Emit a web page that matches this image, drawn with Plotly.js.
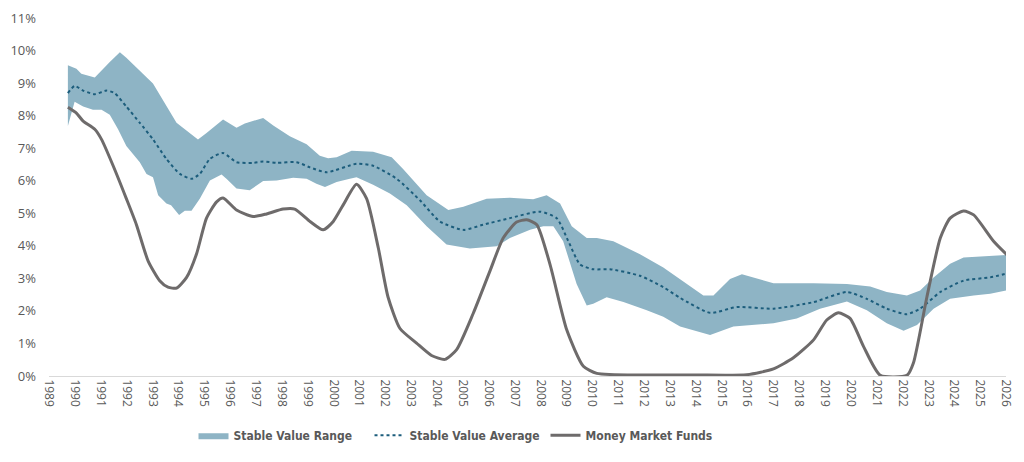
<!DOCTYPE html>
<html>
<head>
<meta charset="utf-8">
<script src="https://cdn.plot.ly/plotly-3.0.1.min.js"></script>
<style>
  html, body { margin: 0; padding: 0; background: #fff; }
  #plot { width: 1024px; height: 462px; }
</style>
</head>
<body>
<div id="plot"></div>
<script>
// values (x = decimal year, y = percent)
const years = [1989, 1990, 1991, 1992, 1993, 1994, 1995, 1996, 1997, 1998, 1999, 2000, 2001, 2002,
  2003, 2004, 2005, 2006, 2007, 2008, 2009, 2010, 2011, 2012, 2013, 2014, 2015, 2016, 2017, 2018,
  2019, 2020, 2021, 2022, 2023, 2024, 2025, 2026];
const yTicks = [0, 1, 2, 3, 4, 5, 6, 7, 8, 9, 10, 11];

const rangeHighX = [1989.73, 1990.06, 1990.25, 1990.77, 1991.35, 1991.74, 1991.99, 1993.02, 1993.93,
  1994.76, 1995.09, 1995.73, 1996.25, 1996.57, 1997.28, 1997.67, 1998.31, 1998.96, 1999.47, 1999.79,
  2000.12, 2000.7, 2001.53, 2002.25, 2002.69, 2003.60, 2004.44, 2005.02, 2005.92, 2006.82, 2007.72,
  2008.24, 2008.76, 2009.21, 2009.79, 2010.18, 2010.82, 2011.85, 2012.75, 2013.40, 2014.30, 2014.69,
  2015.33, 2015.79, 2017.01, 2018.56, 2019.85, 2020.75, 2021.39, 2022.17, 2022.68, 2023.20, 2023.84,
  2024.36, 2025.39, 2026.04];
const rangeHigh = [9.55, 9.44, 9.29, 9.17, 9.65, 9.95, 9.78, 8.99, 7.78,
  7.27, 7.47, 7.88, 7.63, 7.76, 7.93, 7.70, 7.37, 7.12, 6.77, 6.69,
  6.72, 6.92, 6.89, 6.72, 6.36, 5.55, 5.10, 5.20, 5.45, 5.48, 5.43,
  5.55, 5.30, 4.60, 4.24, 4.24, 4.14, 3.74, 3.33, 2.98, 2.47, 2.47,
  2.98, 3.13, 2.85, 2.85, 2.83, 2.75, 2.58, 2.47, 2.63, 3.03, 3.45,
  3.64, 3.69, 3.72];

const rangeLowX = [1989.73, 1989.99, 1990.32, 1990.70, 1991.03, 1991.35, 1991.67, 1991.99, 1992.51,
  1992.77, 1993.02, 1993.22, 1993.54, 1993.72, 1994.03, 1994.25, 1994.51, 1994.83, 1995.22, 1995.67,
  1995.86, 1996.25, 1996.76, 1997.28, 1997.80, 1998.44, 1998.96, 1999.34, 1999.67, 2000.12, 2000.63,
  2000.89, 2001.53, 2002.18, 2002.83, 2003.60, 2004.37, 2005.27, 2006.31, 2006.82, 2007.60, 2008.11,
  2008.50, 2008.88, 2009.40, 2009.79, 2010.04, 2010.56, 2011.21, 2012.11, 2012.75, 2013.40, 2014.56,
  2015.46, 2017.01, 2017.91, 2018.81, 2019.85, 2020.62, 2021.39, 2022.04, 2022.56, 2023.20, 2023.84,
  2024.75, 2025.39, 2026.04];
const rangeLow = [7.68, 8.43, 8.28, 8.18, 8.18, 8.03, 7.58, 7.07, 6.57,
  6.21, 6.11, 5.55, 5.30, 5.25, 4.95, 5.08, 5.08, 5.45, 6.01, 6.19,
  6.06, 5.76, 5.71, 5.99, 6.01, 6.09, 6.06, 5.91, 5.81, 5.96, 6.06,
  6.11, 5.88, 5.61, 5.25, 4.60, 4.04, 3.92, 3.99, 4.24, 4.49, 4.60,
  4.60, 4.14, 2.83, 2.17, 2.22, 2.42, 2.27, 2.02, 1.82, 1.52, 1.26,
  1.52, 1.62, 1.77, 2.07, 2.29, 2.02, 1.62, 1.39, 1.57, 2.07, 2.37,
  2.47, 2.53, 2.63];

const averageX = [1989.73, 1989.99, 1990.32, 1990.77, 1991.22, 1991.54, 1991.99, 1992.51, 1993.02,
  1993.54, 1994.06, 1994.51, 1994.83, 1995.22, 1995.73, 1996.25, 1996.89, 1997.28, 1997.80, 1998.57,
  1999.09, 1999.73, 2000.89, 2001.53, 2002.44, 2003.34, 2004.11, 2005.02, 2005.79, 2006.82, 2007.98,
  2008.63, 2009.08, 2009.53, 2010.04, 2010.69, 2011.85, 2012.75, 2013.40, 2014.56, 2015.59, 2017.01,
  2018.56, 2019.85, 2020.62, 2021.39, 2022.17, 2022.68, 2023.46, 2024.36, 2025.39, 2026.04];
const average = [8.69, 8.91, 8.77, 8.66, 8.77, 8.69, 8.28, 7.78, 7.27,
  6.67, 6.21, 6.06, 6.21, 6.67, 6.85, 6.57, 6.55, 6.59, 6.55, 6.57,
  6.41, 6.26, 6.52, 6.46, 6.06, 5.40, 4.75, 4.49, 4.65, 4.85, 5.05,
  4.85, 4.14, 3.43, 3.28, 3.28, 3.08, 2.73, 2.40, 1.94, 2.12, 2.07,
  2.27, 2.58, 2.37, 2.07, 1.90, 2.07, 2.58, 2.93, 3.03, 3.15];

const moneyMarketX = [1989.73, 1990.06, 1990.32, 1990.77, 1991.03, 1991.48, 1991.99, 1992.38, 1992.83,
  1993.28, 1993.60, 1993.93, 1994.32, 1994.70, 1995.09, 1995.48, 1995.73, 1996.25, 1996.89, 1997.41,
  1998.05, 1998.50, 1999.09, 1999.60, 1999.99, 2000.37, 2000.89, 2001.28, 2001.73, 2002.11, 2002.57,
  2003.21, 2003.79, 2004.31, 2004.76, 2005.40, 2006.05, 2006.56, 2007.08, 2007.47, 2007.86, 2008.37,
  2009.02, 2009.66, 2010.18, 2012.00, 2014.00, 2015.98, 2017.01, 2017.78, 2018.56, 2019.07, 2019.52,
  2019.97, 2020.49, 2021.14, 2022.17, 2022.42, 2022.94, 2023.46, 2023.84, 2024.36, 2024.75, 2025.52,
  2026.04];
const moneyMarket = [8.26, 8.08, 7.83, 7.58, 7.27, 6.46, 5.45, 4.65, 3.54,
  2.93, 2.73, 2.70, 3.03, 3.74, 4.85, 5.35, 5.47, 5.10, 4.90, 4.98,
  5.13, 5.13, 4.75, 4.49, 4.75, 5.25, 5.89, 5.45, 3.94, 2.42, 1.46,
  1.01, 0.63, 0.51, 0.81, 1.92, 3.23, 4.24, 4.73, 4.80, 4.65, 3.43,
  1.41, 0.30, 0.08, 0.03, 0.03, 0.04, 0.22, 0.56, 1.11, 1.72, 1.94,
  1.77, 0.91, 0.02, 0.02, 0.40, 2.42, 4.24, 4.85, 5.07, 4.95, 4.14,
  3.72];

const textGray = "#595959";

const band = {
    type: "scatter",
    mode: "lines",
    name: "Stable Value Range",
    x: rangeHighX.concat(rangeLowX.slice().reverse()),
    y: rangeHigh.concat(rangeLow.slice().reverse()),
    fill: "toself",
    fillcolor: "#8eb4c5",
    line: {width: 0, color: "#8eb4c5"},
    hoverinfo: "skip"
};

const avgLine = {
    type: "scatter",
    mode: "lines",
    name: "Stable Value Average",
    x: averageX,
    y: average,
    line: {color: "#1c5d7c", width: 2, dash: "dot", shape: "spline", smoothing: 0.6}
};

const mmfLine = {
    type: "scatter",
    mode: "lines",
    name: "Money Market Funds",
    x: moneyMarketX,
    y: moneyMarket,
    line: {color: "#6e6b6b", width: 3, shape: "spline", smoothing: 0.6}
};

Plotly.newPlot("plot", [band, avgLine, mmfLine], {
    width: 1024,
    height: 462,
    margin: {l: 49, r: 18, t: 18, b: 82},
    paper_bgcolor: "#fff",
    plot_bgcolor: "#fff",
    showlegend: true,
    legend: {
        orientation: "h",
        x: 0.151, xanchor: "left",
        y: -0.125, yanchor: "top",
        entrywidth: 131,
        entrywidthmode: "pixels",
        font: {family: "DejaVu Sans Condensed, DejaVu Sans, sans-serif", size: 12, color: textGray, weight: "bold"},
        traceorder: "normal"
    },
    xaxis: {
        range: [1989, 2026],
        tickmode: "array",
        tickvals: years,
        ticktext: years.map(String),
        tickangle: 90,
        tickfont: {family: "Open Sans", size: 12, color: textGray},
        showgrid: false,
        zeroline: false,
        showline: true,
        linecolor: "#d9d9d9",
        linewidth: 1,
        ticks: ""
    },
    yaxis: {
        range: [0, 11],
        tickmode: "array",
        tickvals: yTicks,
        ticktext: yTicks.map(v => v + "%"),
        tickfont: {family: "Open Sans", size: 13, color: textGray},
        ticklabelstandoff: 12,
        showgrid: false,
        zeroline: false,
        showline: false,
        ticks: ""
    }
}, {displayModeBar: false, staticPlot: true});
</script>
</body>
</html>
